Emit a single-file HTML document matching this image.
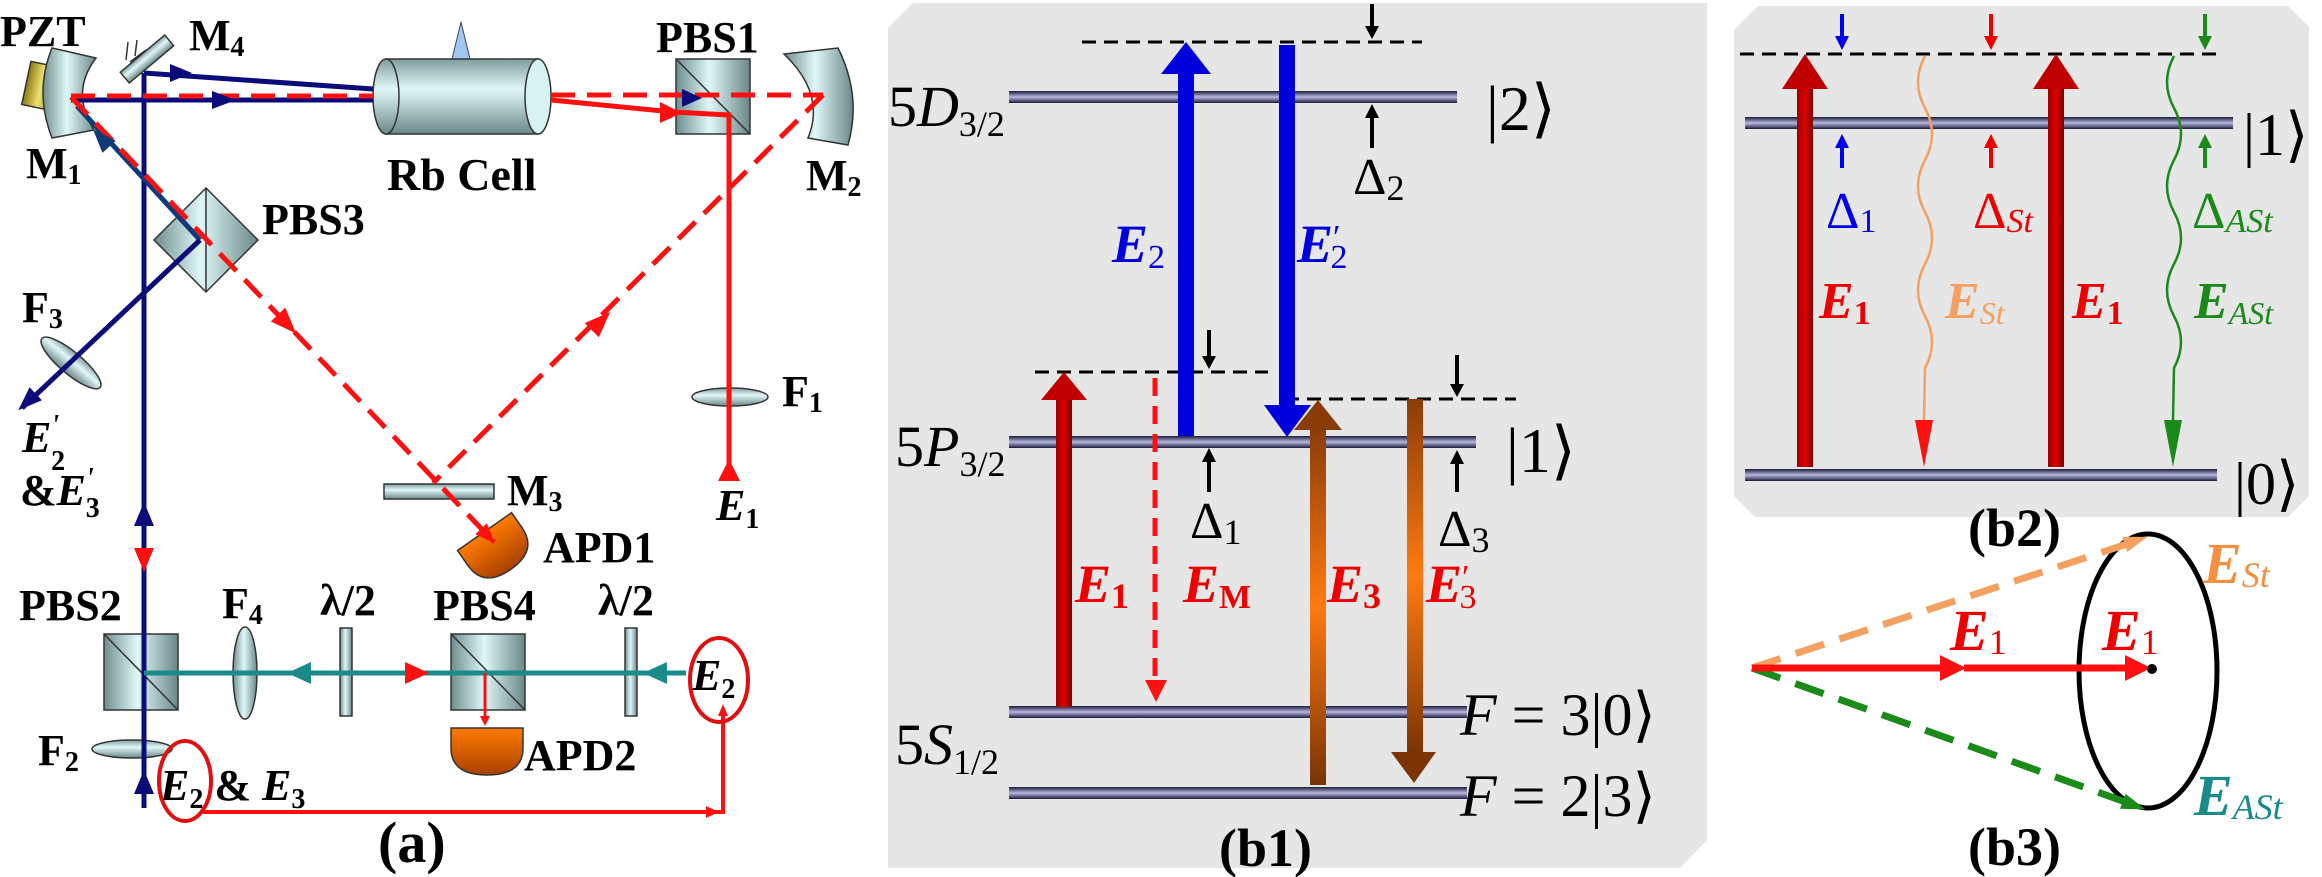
<!DOCTYPE html>
<html><head><meta charset="utf-8"><style>html,body{margin:0;padding:0;background:#fff}svg{display:block}svg text{font-family:"Liberation Serif","DejaVu Serif",serif}</style></head>
<body>
<svg width="2322" height="877" viewBox="0 0 2322 877" xmlns="http://www.w3.org/2000/svg">
<defs>
<linearGradient id="glassH" x1="0" y1="0" x2="1" y2="0"><stop offset="0" stop-color="#6f8d8e"/><stop offset="0.45" stop-color="#dff7f7"/><stop offset="1" stop-color="#6a8788"/></linearGradient>
<linearGradient id="glassV" x1="0" y1="0" x2="0" y2="1"><stop offset="0" stop-color="#7f9d9e"/><stop offset="0.4" stop-color="#e2f8f8"/><stop offset="1" stop-color="#6a8788"/></linearGradient>
<linearGradient id="lvl" x1="0" y1="0" x2="0" y2="1"><stop offset="0" stop-color="#1b1b3a"/><stop offset="0.5" stop-color="#b8b8e0"/><stop offset="1" stop-color="#1b1b3a"/></linearGradient>
<linearGradient id="org" x1="0" y1="0" x2="0" y2="1"><stop offset="0" stop-color="#ff7b00"/><stop offset="1" stop-color="#a84000"/></linearGradient>
<linearGradient id="redA" x1="0" y1="0" x2="1" y2="0"><stop offset="0" stop-color="#9a0000"/><stop offset="0.5" stop-color="#e00000"/><stop offset="1" stop-color="#7a0000"/></linearGradient>
<linearGradient id="brnA" x1="0" y1="0" x2="0" y2="1"><stop offset="0" stop-color="#8a3c08"/><stop offset="0.5" stop-color="#ff7a10"/><stop offset="1" stop-color="#7a3406"/></linearGradient>
<linearGradient id="yel" x1="0" y1="0" x2="1" y2="0"><stop offset="0" stop-color="#8a7a10"/><stop offset="0.5" stop-color="#f0e070"/><stop offset="1" stop-color="#9a8a20"/></linearGradient>
</defs>

<!-- ================= PANEL A ================= -->
<g font-weight="bold" font-size="44">
<text x="0" y="46">PZT</text>
<text x="189" y="50">M<tspan font-size="28" dy="6">4</tspan></text>
<text x="26" y="178">M<tspan font-size="28" dy="6">1</tspan></text>
<text x="656" y="52">PBS1</text>
<text x="806" y="190">M<tspan font-size="28" dy="6">2</tspan></text>
<text x="387" y="190" font-size="46">Rb Cell</text>
<text x="262" y="234">PBS3</text>
<text x="22" y="322">F<tspan font-size="28" dy="6">3</tspan></text>
<text x="782" y="406">F<tspan font-size="28" dy="6">1</tspan></text>
<text x="507" y="505">M<tspan font-size="28" dy="6">3</tspan></text>
<text x="543" y="562">APD1</text>
<text x="19" y="620">PBS2</text>
<text x="222" y="618">F<tspan font-size="28" dy="6">4</tspan></text>
<text x="320" y="615">λ/2</text>
<text x="433" y="620">PBS4</text>
<text x="598" y="615">λ/2</text>
<text x="38" y="765">F<tspan font-size="28" dy="6">2</tspan></text>
<text x="524" y="770">APD2</text>
<text x="378" y="862" font-size="58">(a)</text>
</g>
<g font-weight="bold" font-style="italic" font-size="44">
<text x="716" y="520">E<tspan font-size="28" dy="8" font-style="normal">1</tspan></text>
<text x="22" y="452">E<tspan font-size="28" dy="-18">'</tspan><tspan font-size="28" dx="-8" dy="36" font-style="normal">2</tspan></text>
<text x="20" y="505"><tspan font-style="normal">&amp;</tspan>E<tspan font-size="28" dy="-18">'</tspan><tspan font-size="28" dx="-8" dy="30" font-style="normal">3</tspan></text>
<text x="160" y="800">E<tspan font-size="28" dy="8" font-style="normal">2</tspan><tspan dy="-8" font-style="normal"> &amp; </tspan>E<tspan font-size="28" dy="8" font-style="normal">3</tspan></text>
<text x="692" y="690">E<tspan font-size="28" dy="8" font-style="normal">2</tspan></text>
</g>

<rect x="26" y="64" width="30" height="44" fill="url(#yel)" stroke="#333" stroke-width="1.5" transform="rotate(12 41 86)"/>
<path d="M52,48 L96,58 Q70,92 94,130 L52,138 Q34,92 52,48 Z" fill="url(#glassH)" stroke="#333" stroke-width="1.5"/>
<rect x="118" y="52" width="58" height="14" fill="url(#glassV)" stroke="#333" stroke-width="1.5" transform="rotate(-40 147 59)"/>
<path d="M126,60 L128,42 M135,56 L137,40 M130,62 L146,50" stroke="#333" stroke-width="1.5" fill="none"/>
<polygon points="452,59 461,22 470,59" fill="#9ec8f0" stroke="#446" stroke-width="1"/>
<rect x="386" y="59" width="152" height="75" fill="url(#glassV)" stroke="#333" stroke-width="1.5"/>
<ellipse cx="386" cy="96.5" rx="13" ry="37.5" fill="url(#glassV)" stroke="#333" stroke-width="1.5"/>
<ellipse cx="538" cy="96.5" rx="13" ry="37.5" fill="#d8f2f2" stroke="#333" stroke-width="1.5"/>
<rect x="676" y="59" width="74" height="75" fill="url(#glassH)" stroke="#333" stroke-width="1.5"/>
<line x1="676" y1="59" x2="750" y2="134" stroke="#333" stroke-width="1.5"/>
<path d="M784,54 L838,48 Q862,96 848,145 L808,138 Q826,94 784,54 Z" fill="url(#glassH)" stroke="#333" stroke-width="1.5"/>
<polygon points="206,188 258,240 206,292 154,240" fill="url(#glassH)" stroke="#333" stroke-width="1.5"/>
<line x1="206" y1="188" x2="206" y2="292" stroke="#333" stroke-width="1.5"/>
<ellipse cx="71" cy="363" rx="38" ry="11" fill="url(#glassV)" stroke="#333" stroke-width="1.5" transform="rotate(40 71 363)"/>
<ellipse cx="730" cy="397" rx="38" ry="9" fill="url(#glassV)" stroke="#333" stroke-width="1.5"/>
<rect x="384" y="484" width="110" height="15" fill="url(#glassV)" stroke="#333" stroke-width="1.5"/>
<path d="M463,528 H529 V546 Q529,574 496,574 Q463,574 463,546 Z" fill="url(#org)" stroke="#333" stroke-width="1.5" transform="rotate(-35 496 548)"/>
<rect x="104" y="634" width="74" height="76" fill="url(#glassH)" stroke="#333" stroke-width="1.5"/>
<line x1="104" y1="634" x2="178" y2="710" stroke="#333" stroke-width="1.5"/>
<rect x="451" y="634" width="74" height="76" fill="url(#glassH)" stroke="#333" stroke-width="1.5"/>
<line x1="451" y1="634" x2="525" y2="710" stroke="#333" stroke-width="1.5"/>
<ellipse cx="245" cy="673" rx="12" ry="46" fill="url(#glassH)" stroke="#333" stroke-width="1.5"/>
<rect x="340" y="628" width="12" height="88" fill="url(#glassH)" stroke="#333" stroke-width="1.5"/>
<rect x="625" y="628" width="12" height="88" fill="url(#glassH)" stroke="#333" stroke-width="1.5"/>
<ellipse cx="132" cy="749" rx="40" ry="9" fill="url(#glassV)" stroke="#333" stroke-width="1.5"/>
<path d="M451,728 H523 V748 Q523,775 487,775 Q451,775 451,748 Z" fill="url(#org)" stroke="#333" stroke-width="1.5"/>

<g fill="none" stroke-width="5">
<line x1="144" y1="73" x2="144" y2="808" stroke="#0b0b7a"/>
<line x1="144" y1="73" x2="373" y2="89" stroke="#0b0b7a"/>
<line x1="71" y1="100" x2="373" y2="100" stroke="#0b0b7a"/>
<line x1="200" y1="240" x2="77" y2="106" stroke="#0d3a78"/>
<line x1="200" y1="240" x2="22" y2="408" stroke="#0b0b7a"/>
<line x1="71" y1="96" x2="373" y2="96" stroke="#ff1010" stroke-dasharray="24,12"/>
<line x1="551" y1="95" x2="823" y2="95" stroke="#ff1010" stroke-dasharray="24,12"/>
<line x1="71" y1="97" x2="494" y2="542" stroke="#ff1010" stroke-dasharray="24,12"/>
<line x1="823" y1="95" x2="433" y2="483" stroke="#ff1010" stroke-dasharray="24,12"/>
<polyline points="551,100 673,112 729,115 729,481" stroke="#ff1010"/>
<line x1="144" y1="673" x2="686" y2="673" stroke="#1a8a8a"/>
<line x1="485" y1="673" x2="485" y2="718" stroke="#ff1010" stroke-width="3"/>
<polyline points="203,812 723,812 723,712" stroke="#ff1010" stroke-width="4"/>
<ellipse cx="719" cy="680" rx="29" ry="42" stroke="#e01010" stroke-width="4"/>
<ellipse cx="185" cy="781" rx="26" ry="40" stroke="#e01010" stroke-width="4"/>
</g>
<g fill="#0b0b7a">
<polygon points="170,64 192,73 170,82"/>
<polygon points="212,91 236,100 212,109"/>
<polygon points="682,89 702,98 682,107"/>
<polygon points="-12,-9 12,0 -12,9" transform="translate(101,138) rotate(-132.5)" fill="#0d3a78"/>
<polygon points="-12,-9 12,0 -12,9" transform="translate(27,402) rotate(136.6)"/>
<polygon points="134,526 144,502 154,526"/>
<polygon points="134,794 144,770 154,794"/>
</g>
<g fill="#ff1010">
<polygon points="660,102 682,113 660,123"/>
<polygon points="-13,-10 13,0 -13,10" transform="translate(287,324) rotate(46.5)"/>
<polygon points="-13,-10 13,0 -13,10" transform="translate(601,321) rotate(-44.9)"/>
<polygon points="-10,-8 10,0 -10,8" transform="translate(488,536) rotate(46.5)"/>
<polygon points="134,548 144,572 154,548"/>
<polygon points="718,481 729,459 740,481"/>
<polygon points="405,662 429,673 405,684"/>
<polygon points="480,716 485,726 490,716"/>
<polygon points="718,716 723,704 728,716"/>
<polygon points="706,806 719,812 706,818"/>
</g>
<g fill="#1a8a8a">
<polygon points="311,662 287,673 311,684"/>
<polygon points="667,662 643,673 667,684"/>
</g>

<!-- ================= PANEL B1 ================= -->
<polygon points="913,3 1707,3 1707,840 1680,868 888,868 888,28" fill="#e6e6e6"/>
<rect x="1009" y="91" width="448" height="12" fill="url(#lvl)"/>
<rect x="1009" y="436" width="467" height="12" fill="url(#lvl)"/>
<rect x="1009" y="706" width="458" height="12" fill="url(#lvl)"/>
<rect x="1009" y="787" width="458" height="12" fill="url(#lvl)"/>
<g stroke="#000" stroke-width="3" stroke-dasharray="14,8" fill="none">
<line x1="1082" y1="42" x2="1422" y2="42"/>
<line x1="1035" y1="372" x2="1268" y2="372"/>
<line x1="1285" y1="399" x2="1516" y2="399"/>
</g>
<rect x="1178" y="72" width="16" height="364" fill="#0000dd"/>
<polygon points="1161,74 1186,42 1211,74" fill="#0000dd"/>
<rect x="1279" y="45" width="16" height="362" fill="#0000dd"/>
<polygon points="1264,405 1311,405 1287,437" fill="#0000dd"/>
<rect x="1056" y="398" width="16" height="309" fill="url(#redA)"/>
<polygon points="1041,400 1064,372 1087,400" fill="#c00000"/>
<line x1="1155" y1="378" x2="1155" y2="680" stroke="#ff1010" stroke-width="5" stroke-dasharray="18,10"/>
<polygon points="1145,680 1167,680 1156,702" fill="#ff1010"/>
<rect x="1310" y="428" width="16" height="357" fill="url(#brnA)"/>
<polygon points="1294,430 1318,400 1342,430" fill="#8a3c08"/>
<rect x="1407" y="399" width="16" height="354" fill="url(#brnA)"/>
<polygon points="1391,752 1436,752 1414,783" fill="#7a3406"/>
<g stroke="#000" stroke-width="4" fill="#000">
<line x1="1372" y1="4" x2="1372" y2="28"/><polygon points="1365,26 1379,26 1372,39" stroke="none"/>
<line x1="1209" y1="330" x2="1209" y2="358"/><polygon points="1202,356 1216,356 1209,369" stroke="none"/>
<line x1="1457" y1="355" x2="1457" y2="386"/><polygon points="1450,384 1464,384 1457,397" stroke="none"/>
<line x1="1372" y1="116" x2="1372" y2="148"/><polygon points="1365,118 1379,118 1372,104" stroke="none"/>
<line x1="1209" y1="460" x2="1209" y2="492"/><polygon points="1202,462 1216,462 1209,448" stroke="none"/>
<line x1="1457" y1="462" x2="1457" y2="492"/><polygon points="1450,464 1464,464 1457,450" stroke="none"/>
</g>
<g font-size="58">
<text x="888" y="126">5<tspan font-style="italic">D</tspan><tspan font-size="36" dy="10">3/2</tspan></text>
<text x="895" y="466">5<tspan font-style="italic">P</tspan><tspan font-size="36" dy="10">3/2</tspan></text>
<text x="895" y="764">5<tspan font-style="italic">S</tspan><tspan font-size="36" dy="10">1/2</tspan></text>
<text x="1486" y="130" font-size="64">|2⟩</text>
<text x="1506" y="472" font-size="64">|1⟩</text>
<text x="1460" y="735" font-size="60"><tspan font-style="italic">F</tspan> = 3|0⟩</text>
<text x="1460" y="816" font-size="60"><tspan font-style="italic">F</tspan> = 2|3⟩</text>
<text x="1353" y="194" font-size="52">Δ<tspan font-size="36" dy="6">2</tspan></text>
<text x="1190" y="538" font-size="52">Δ<tspan font-size="36" dy="6">1</tspan></text>
<text x="1438" y="546" font-size="52">Δ<tspan font-size="36" dy="6">3</tspan></text>
</g>
<g font-size="54" font-weight="bold" font-style="italic">
<text x="1112" y="262" fill="#0000dd">E<tspan font-size="34" dy="6" font-style="normal" font-weight="normal">2</tspan></text>
<text x="1297" y="262" fill="#0000dd">E<tspan font-size="34" dy="-14" font-style="normal" font-weight="normal">′</tspan><tspan font-size="34" dx="-10" dy="20" font-style="normal" font-weight="normal">2</tspan></text>
<text x="1075" y="602" fill="#ee0000">E<tspan font-size="36" dy="6" font-style="normal">1</tspan></text>
<text x="1183" y="602" fill="#ee0000">E<tspan font-size="34" dy="6" font-style="normal">M</tspan></text>
<text x="1327" y="602" fill="#ee0000">E<tspan font-size="36" dy="6" font-style="normal">3</tspan></text>
<text x="1426" y="602" fill="#ee0000">E<tspan font-size="34" dy="-14" font-style="normal" font-weight="normal">′</tspan><tspan font-size="34" dx="-10" dy="20" font-style="normal" font-weight="normal">3</tspan></text>
</g>
<text x="1219" y="866" font-size="54" font-weight="bold">(b1)</text>

<!-- ================= PANEL B2 ================= -->
<polygon points="1758,6 2288,6 2309,27 2309,496 2288,517 1755,517 1734,496 1734,30" fill="#e6e6e6"/>
<rect x="1745" y="117" width="488" height="12" fill="url(#lvl)"/>
<rect x="1745" y="469" width="472" height="12" fill="url(#lvl)"/>
<line x1="1740" y1="54" x2="2217" y2="54" stroke="#000" stroke-width="3" stroke-dasharray="14,8"/>
<rect x="1797" y="86" width="16" height="381" fill="url(#redA)"/>
<polygon points="1782,89 1805,54 1828,89" fill="#c00000"/>
<rect x="2048" y="86" width="16" height="381" fill="url(#redA)"/>
<polygon points="2033,89 2056,54 2079,89" fill="#c00000"/>
<path d="M1925,56 q-14,26 0,52 q14,26 0,52 q-14,26 0,52 q14,26 0,52 q-14,26 0,52 q14,26 0,52 L1924,420" fill="none" stroke="#f4a060" stroke-width="2.5"/>
<polygon points="1915,420 1933,420 1924,467" fill="#ff1010"/>
<path d="M2174,56 q-14,26 0,52 q14,26 0,52 q-14,26 0,52 q14,26 0,52 q-14,26 0,52 q14,26 0,52 L2173,420" fill="none" stroke="#1a8a1a" stroke-width="2.5"/>
<polygon points="2164,420 2182,420 2173,467" fill="#1a8a1a"/>
<g stroke-width="4">
<line x1="1842" y1="14" x2="1842" y2="38" stroke="#0000ee"/><polygon points="1835,36 1849,36 1842,50" fill="#0000ee"/>
<line x1="1991" y1="14" x2="1991" y2="38" stroke="#ee0000"/><polygon points="1984,36 1998,36 1991,50" fill="#ee0000"/>
<line x1="2205" y1="14" x2="2205" y2="38" stroke="#1a8a1a"/><polygon points="2198,36 2212,36 2205,50" fill="#1a8a1a"/>
<line x1="1842" y1="146" x2="1842" y2="168" stroke="#0000ee"/><polygon points="1835,148 1849,148 1842,134" fill="#0000ee"/>
<line x1="1991" y1="146" x2="1991" y2="168" stroke="#ee0000"/><polygon points="1984,148 1998,148 1991,134" fill="#ee0000"/>
<line x1="2205" y1="146" x2="2205" y2="168" stroke="#1a8a1a"/><polygon points="2198,148 2212,148 2205,134" fill="#1a8a1a"/>
</g>
<g font-size="52">
<text x="1826" y="228" fill="#0000ee">Δ<tspan font-size="34" dy="4">1</tspan></text>
<text x="1973" y="228" fill="#ee0000">Δ<tspan font-size="34" dy="4" font-style="italic">St</tspan></text>
<text x="2192" y="228" fill="#1a8a1a">Δ<tspan font-size="34" dy="4" font-style="italic">ASt</tspan></text>
<text x="2243" y="155" font-size="60">|1⟩</text>
<text x="2234" y="504" font-size="60">|0⟩</text>
</g>
<g font-size="52" font-weight="bold" font-style="italic">
<text x="1819" y="318" fill="#ee0000">E<tspan font-size="34" dy="6" font-style="normal">1</tspan></text>
<text x="2072" y="318" fill="#ee0000">E<tspan font-size="34" dy="6" font-style="normal">1</tspan></text>
<text x="1945" y="318" fill="#f4a060">E<tspan font-size="32" dy="6" font-weight="normal">St</tspan></text>
<text x="2194" y="318" fill="#1a8a1a">E<tspan font-size="32" dy="6" font-weight="normal">ASt</tspan></text>
</g>
<text x="1968" y="546" font-size="54" font-weight="bold">(b2)</text>

<!-- ================= PANEL B3 ================= -->
<ellipse cx="2148" cy="671" rx="69" ry="137" fill="none" stroke="#000" stroke-width="5"/>
<line x1="1752" y1="668" x2="2130" y2="543" stroke="#f4a060" stroke-width="7" stroke-dasharray="30,16"/>
<polygon points="-14,-8 10,0 -14,8" transform="translate(2138,540) rotate(-18.3)" fill="#f4a060"/>
<line x1="1752" y1="668" x2="2128" y2="803" stroke="#1a8a1a" stroke-width="7" stroke-dasharray="30,16"/>
<polygon points="-14,-8 10,0 -14,8" transform="translate(2136,806) rotate(19.7)" fill="#1a8a1a"/>
<line x1="1752" y1="668" x2="1950" y2="668" stroke="#ff1010" stroke-width="7"/>
<polygon points="1940,655 1966,668 1940,681" fill="#ff1010"/>
<line x1="1964" y1="668" x2="2135" y2="668" stroke="#ff1010" stroke-width="7"/>
<polygon points="2125,655 2151,668 2125,681" fill="#ff1010"/>
<circle cx="2152" cy="669" r="5" fill="#000"/>
<g font-size="58" font-weight="bold" font-style="italic">
<text x="1950" y="650" fill="#ee0000">E<tspan font-size="36" dy="4" font-style="normal" font-weight="normal">1</tspan></text>
<text x="2102" y="650" fill="#ee0000">E<tspan font-size="36" dy="4" font-style="normal" font-weight="normal">1</tspan></text>
<text x="2203" y="583" fill="#f49040">E<tspan font-size="36" dy="4" font-weight="normal">St</tspan></text>
<text x="2194" y="815" fill="#1a8a8a">E<tspan font-size="36" dy="4" font-weight="normal">ASt</tspan></text>
</g>
<text x="1968" y="865" font-size="54" font-weight="bold">(b3)</text>
</svg>
</body></html>
